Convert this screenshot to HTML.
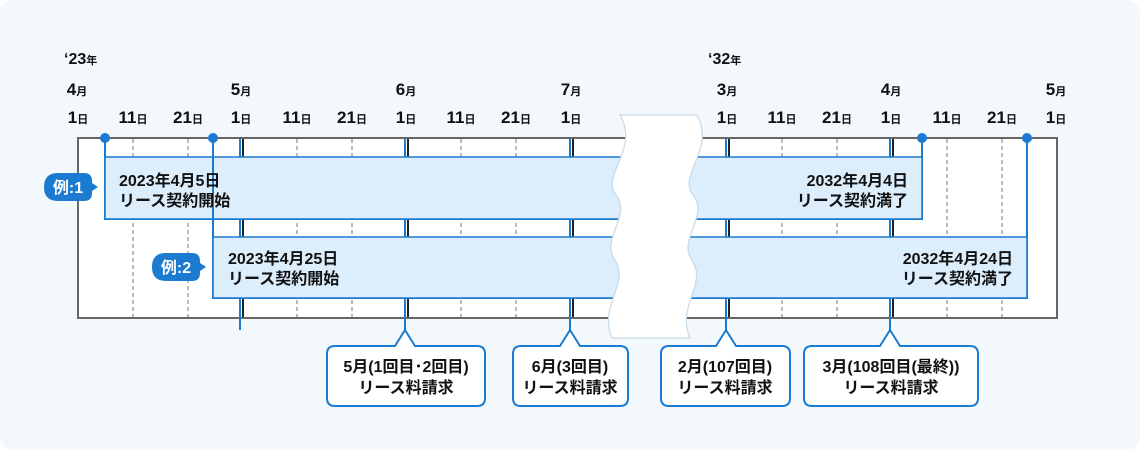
<!DOCTYPE html>
<html><head><meta charset="utf-8"><style>
body{margin:0;background:#fff;}
svg text{font-family:"Liberation Sans","Noto Sans CJK JP",sans-serif;}
</style></head><body>
<svg width="1140" height="450" xmlns="http://www.w3.org/2000/svg">
<rect x="0" y="0" width="1140" height="450" rx="14" fill="#f3f8fc"/>
<g font-weight="bold" fill="#111" font-size="16">
<text x="64" y="64">‘23<tspan font-size="11">年</tspan></text>
<text x="708" y="64">‘32<tspan font-size="11">年</tspan></text>
<g text-anchor="middle" font-size="17">
<text x="77" y="95">4<tspan font-size="11">月</tspan></text>
<text x="241" y="95">5<tspan font-size="11">月</tspan></text>
<text x="406" y="95">6<tspan font-size="11">月</tspan></text>
<text x="571" y="95">7<tspan font-size="11">月</tspan></text>
<text x="727" y="95">3<tspan font-size="11">月</tspan></text>
<text x="891" y="95">4<tspan font-size="11">月</tspan></text>
<text x="1056" y="95">5<tspan font-size="11">月</tspan></text>
<text x="78" y="123">1<tspan font-size="11">日</tspan></text>
<text x="133" y="123">11<tspan font-size="11">日</tspan></text>
<text x="188" y="123">21<tspan font-size="11">日</tspan></text>
<text x="241" y="123">1<tspan font-size="11">日</tspan></text>
<text x="297" y="123">11<tspan font-size="11">日</tspan></text>
<text x="352" y="123">21<tspan font-size="11">日</tspan></text>
<text x="406" y="123">1<tspan font-size="11">日</tspan></text>
<text x="461" y="123">11<tspan font-size="11">日</tspan></text>
<text x="516" y="123">21<tspan font-size="11">日</tspan></text>
<text x="571" y="123">1<tspan font-size="11">日</tspan></text>
<text x="727" y="123">1<tspan font-size="11">日</tspan></text>
<text x="782" y="123">11<tspan font-size="11">日</tspan></text>
<text x="837" y="123">21<tspan font-size="11">日</tspan></text>
<text x="891" y="123">1<tspan font-size="11">日</tspan></text>
<text x="947" y="123">11<tspan font-size="11">日</tspan></text>
<text x="1002" y="123">21<tspan font-size="11">日</tspan></text>
<text x="1056" y="123">1<tspan font-size="11">日</tspan></text>
</g></g>
<rect x="78" y="138" width="979" height="180" fill="#fff" stroke="#666" stroke-width="2"/>
<g stroke="#777" stroke-dasharray="4,3" stroke-width="1">
<path d="M133 139V317M188 139V317M297 139V317M352 139V317M461 139V317M516 139V317M782 139V317M837 139V317M947 139V317M1002 139V317"/>
</g>
<g stroke-width="2">
<g stroke="#222"><path d="M243 139V317M408 139V317M573 139V317M729 139V317M893 139V317"/></g>
<g stroke="#1a7bd0"><path d="M240 139V330M405 139V330M570 139V330M726 139V330M890 139V330"/></g>
</g>
<path d="M105 138V219H922V138" fill="none" stroke="#1a7bd0" stroke-width="2"/>
<rect x="105" y="157" width="817" height="62" fill="#dcedfc" stroke="#1a7bd0" stroke-width="1.5"/>
<path d="M213 138V298H1027V138" fill="none" stroke="#1a7bd0" stroke-width="2"/>
<rect x="213" y="237" width="814" height="61" fill="#dcedfc" stroke="#1a7bd0" stroke-width="1.5"/>
<g fill="#1a7bd0"><circle cx="105" cy="138" r="5"/><circle cx="213" cy="138" r="5"/><circle cx="922" cy="138" r="5"/><circle cx="1027" cy="138" r="5"/></g>
<g font-size="16" font-weight="bold" fill="#111">
<text x="119" y="186">2023年4月5日</text><text x="119" y="206">リース契約開始</text>
<text x="228" y="264">2023年4月25日</text><text x="228" y="284">リース契約開始</text>
<text x="908" y="186" text-anchor="end">2032年4月4日</text><text x="908" y="206" text-anchor="end">リース契約満了</text>
<text x="1013" y="264" text-anchor="end">2032年4月24日</text><text x="1013" y="284" text-anchor="end">リース契約満了</text>
</g>
<path d="M58 173H84Q92 173 92 181V183L98 187L92 191V193Q92 201 84 201H58Q44 201 44 187Q44 173 58 173Z" fill="#1a7bd0"/>
<text x="68" y="193" fill="#fff" font-size="16" font-weight="bold" text-anchor="middle">例:1</text>
<path d="M166 253H192Q200 253 200 261V263L206 267L200 271V273Q200 281 192 281H166Q152 281 152 267Q152 253 166 253Z" fill="#1a7bd0"/>
<text x="176" y="273" fill="#fff" font-size="16" font-weight="bold" text-anchor="middle">例:2</text>
<path d="M620 115 C640 150,600 175,616 195 C632 215,600 240,615 260 C630 285,598 305,612 338 L690 338 C676 305,708 285,692 260 C677 240,710 215,693 195 C677 175,716 150,697 115 Z" fill="#fff" stroke="#c5d9e8" stroke-width="1.2"/>
<g fill="#fff" stroke="#1a7bd0" stroke-width="2">
<path d="M335 346H395L405 330L415 346H477Q485 346 485 354V398Q485 406 477 406H335Q327 406 327 398V354Q327 346 335 346Z"/>
<path d="M521 346H560L570 330L580 346H620Q628 346 628 354V398Q628 406 620 406H521Q513 406 513 398V354Q513 346 521 346Z"/>
<path d="M669 346H716L726 330L736 346H782Q790 346 790 354V398Q790 406 782 406H669Q661 406 661 398V354Q661 346 669 346Z"/>
<path d="M812 346H880L890 330L900 346H970Q978 346 978 354V398Q978 406 970 406H812Q804 406 804 398V354Q804 346 812 346Z"/>
</g>
<g font-size="16" font-weight="bold" fill="#111" text-anchor="middle">
<text x="406" y="372">5月(1回目･2回目)</text><text x="406" y="393">リース料請求</text>
<text x="570" y="372">6月(3回目)</text><text x="570" y="393">リース料請求</text>
<text x="725" y="372">2月(107回目)</text><text x="725" y="393">リース料請求</text>
<text x="891" y="372">3月(108回目(最終))</text><text x="891" y="393">リース料請求</text>
</g>
</svg>
</body></html>
